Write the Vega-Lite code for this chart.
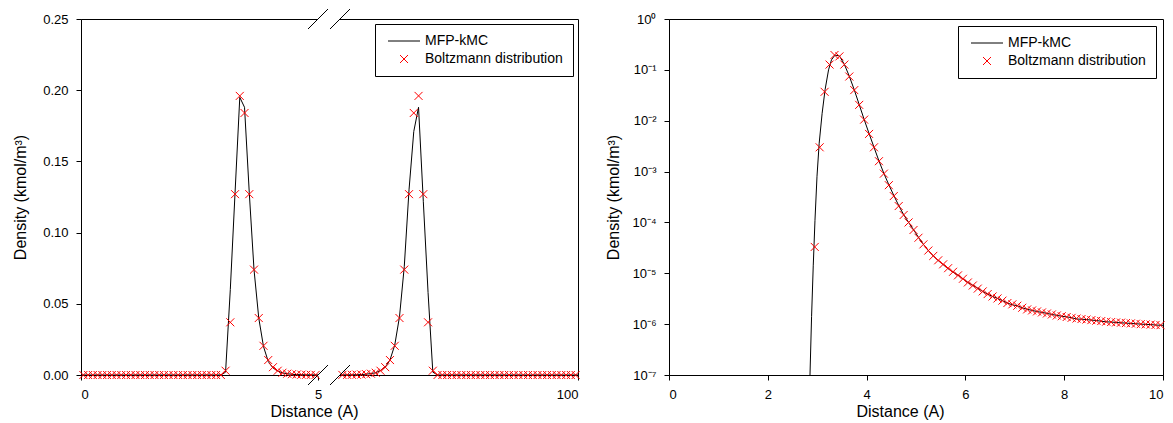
{
  "$schema": "https://vega.github.io/schema/vega-lite/v6.json",
  "padding": {"left": 12, "top": 6, "right": 2, "bottom": 2},
  "background": "white",
  "config": {
    "font": "Liberation Sans",
    "view": {"stroke": "black", "strokeWidth": 1},
    "axis": {"domainColor": "black", "tickColor": "black", "labelColor": "black", "titleColor": "black", "labelFontSize": 13, "titleFontSize": 16, "titleFontWeight": "normal", "grid": false, "tickSize": 5, "labelPadding": 8},
    "legend": {"strokeColor": "black", "fillColor": "white", "padding": 10, "labelFontSize": 14, "labelColor": "black", "symbolSize": 64, "symbolStrokeWidth": 1, "symbolOffset": 12, "labelOffset": 14, "rowPadding": 4, "orient": "top-right"}
  },
  "datasets": {
    "lin": [
      {"s":"B","g":"a","x":0.05,"d":0},{"s":"B","g":"a","x":0.15,"d":0},{"s":"B","g":"a","x":0.25,"d":0},{"s":"B","g":"a","x":0.35,"d":0},{"s":"B","g":"a","x":0.45,"d":0},{"s":"B","g":"a","x":0.55,"d":0},{"s":"B","g":"a","x":0.65,"d":0},{"s":"B","g":"a","x":0.75,"d":0},{"s":"B","g":"a","x":0.85,"d":0},{"s":"B","g":"a","x":0.95,"d":0},
      {"s":"B","g":"a","x":1.05,"d":0},{"s":"B","g":"a","x":1.15,"d":0},{"s":"B","g":"a","x":1.25,"d":0},{"s":"B","g":"a","x":1.35,"d":0},{"s":"B","g":"a","x":1.45,"d":0},{"s":"B","g":"a","x":1.55,"d":0},{"s":"B","g":"a","x":1.65,"d":0},{"s":"B","g":"a","x":1.75,"d":0},{"s":"B","g":"a","x":1.85,"d":0},{"s":"B","g":"a","x":1.95,"d":0},
      {"s":"B","g":"a","x":2.05,"d":0},{"s":"B","g":"a","x":2.15,"d":0},{"s":"B","g":"a","x":2.25,"d":0},{"s":"B","g":"a","x":2.35,"d":0},{"s":"B","g":"a","x":2.45,"d":0},{"s":"B","g":"a","x":2.55,"d":0},{"s":"B","g":"a","x":2.65,"d":0},{"s":"B","g":"a","x":2.75,"d":0},{"s":"B","g":"a","x":2.85,"d":0},
      {"s":"B","g":"a","x":2.95,"d":0.00003},{"s":"B","g":"a","x":3.05,"d":0.003},{"s":"B","g":"a","x":3.15,"d":0.037},{"s":"B","g":"a","x":3.25,"d":0.127},{"s":"B","g":"a","x":3.35,"d":0.196},{"s":"B","g":"a","x":3.45,"d":0.184},{"s":"B","g":"a","x":3.55,"d":0.127},{"s":"B","g":"a","x":3.65,"d":0.074},{"s":"B","g":"a","x":3.75,"d":0.04},{"s":"B","g":"a","x":3.85,"d":0.0205},
      {"s":"B","g":"a","x":3.95,"d":0.0105},{"s":"B","g":"a","x":4.05,"d":0.0055},{"s":"B","g":"a","x":4.15,"d":0.003},{"s":"B","g":"a","x":4.25,"d":0.0016},{"s":"B","g":"a","x":4.35,"d":0.00091},{"s":"B","g":"a","x":4.45,"d":0.00054},{"s":"B","g":"a","x":4.55,"d":0.00033},{"s":"B","g":"a","x":4.65,"d":0.00021},{"s":"B","g":"a","x":4.75,"d":0.00014},{"s":"B","g":"a","x":4.85,"d":0.0001},{"s":"B","g":"a","x":4.95,"d":0.00007},
      {"s":"B","g":"b","x":95.05,"d":0.00007},{"s":"B","g":"b","x":95.15,"d":0.0001},{"s":"B","g":"b","x":95.25,"d":0.00014},{"s":"B","g":"b","x":95.35,"d":0.00021},{"s":"B","g":"b","x":95.45,"d":0.00033},{"s":"B","g":"b","x":95.55,"d":0.00054},{"s":"B","g":"b","x":95.65,"d":0.00091},{"s":"B","g":"b","x":95.75,"d":0.0016},{"s":"B","g":"b","x":95.85,"d":0.003},{"s":"B","g":"b","x":95.95,"d":0.0055},
      {"s":"B","g":"b","x":96.05,"d":0.0105},{"s":"B","g":"b","x":96.15,"d":0.0205},{"s":"B","g":"b","x":96.25,"d":0.04},{"s":"B","g":"b","x":96.35,"d":0.074},{"s":"B","g":"b","x":96.45,"d":0.127},{"s":"B","g":"b","x":96.55,"d":0.184},{"s":"B","g":"b","x":96.65,"d":0.196},{"s":"B","g":"b","x":96.75,"d":0.127},{"s":"B","g":"b","x":96.85,"d":0.037},{"s":"B","g":"b","x":96.95,"d":0.003},{"s":"B","g":"b","x":97.05,"d":0.00003},
      {"s":"B","g":"b","x":97.15,"d":0},{"s":"B","g":"b","x":97.25,"d":0},{"s":"B","g":"b","x":97.35,"d":0},{"s":"B","g":"b","x":97.45,"d":0},{"s":"B","g":"b","x":97.55,"d":0},{"s":"B","g":"b","x":97.65,"d":0},{"s":"B","g":"b","x":97.75,"d":0},{"s":"B","g":"b","x":97.85,"d":0},{"s":"B","g":"b","x":97.95,"d":0},
      {"s":"B","g":"b","x":98.05,"d":0},{"s":"B","g":"b","x":98.15,"d":0},{"s":"B","g":"b","x":98.25,"d":0},{"s":"B","g":"b","x":98.35,"d":0},{"s":"B","g":"b","x":98.45,"d":0},{"s":"B","g":"b","x":98.55,"d":0},{"s":"B","g":"b","x":98.65,"d":0},{"s":"B","g":"b","x":98.75,"d":0},{"s":"B","g":"b","x":98.85,"d":0},{"s":"B","g":"b","x":98.95,"d":0},
      {"s":"B","g":"b","x":99.05,"d":0},{"s":"B","g":"b","x":99.15,"d":0},{"s":"B","g":"b","x":99.25,"d":0},{"s":"B","g":"b","x":99.35,"d":0},{"s":"B","g":"b","x":99.45,"d":0},{"s":"B","g":"b","x":99.55,"d":0},{"s":"B","g":"b","x":99.65,"d":0},{"s":"B","g":"b","x":99.75,"d":0},{"s":"B","g":"b","x":99.85,"d":0},{"s":"B","g":"b","x":99.95,"d":0},
      {"s":"M","g":"a","x":0.0,"d":0},{"s":"M","g":"a","x":0.5,"d":0},{"s":"M","g":"a","x":1.0,"d":0},{"s":"M","g":"a","x":1.5,"d":0},{"s":"M","g":"a","x":2.0,"d":0},{"s":"M","g":"a","x":2.5,"d":0},{"s":"M","g":"a","x":2.95,"d":0},
      {"s":"M","g":"a","x":3.05,"d":0.002},{"s":"M","g":"a","x":3.15,"d":0.06},{"s":"M","g":"a","x":3.25,"d":0.128},{"s":"M","g":"a","x":3.35,"d":0.195},{"s":"M","g":"a","x":3.45,"d":0.188},{"s":"M","g":"a","x":3.55,"d":0.128},{"s":"M","g":"a","x":3.65,"d":0.074},{"s":"M","g":"a","x":3.75,"d":0.04},{"s":"M","g":"a","x":3.85,"d":0.02},{"s":"M","g":"a","x":3.95,"d":0.0095},
      {"s":"M","g":"a","x":4.05,"d":0.005},{"s":"M","g":"a","x":4.15,"d":0.0028},{"s":"M","g":"a","x":4.25,"d":0.0015},{"s":"M","g":"a","x":4.35,"d":0.0009},{"s":"M","g":"a","x":4.45,"d":0.0005},{"s":"M","g":"a","x":4.55,"d":0.0003},{"s":"M","g":"a","x":4.65,"d":0.0002},{"s":"M","g":"a","x":4.75,"d":0.00013},{"s":"M","g":"a","x":4.85,"d":0.0001},{"s":"M","g":"a","x":4.95,"d":0.00007},{"s":"M","g":"a","x":5.0,"d":0.00006},
      {"s":"M","g":"b","x":95.0,"d":0.00006},{"s":"M","g":"b","x":95.05,"d":0.00007},{"s":"M","g":"b","x":95.15,"d":0.0001},{"s":"M","g":"b","x":95.25,"d":0.00013},{"s":"M","g":"b","x":95.35,"d":0.0002},{"s":"M","g":"b","x":95.45,"d":0.0003},{"s":"M","g":"b","x":95.55,"d":0.0006},{"s":"M","g":"b","x":95.65,"d":0.001},{"s":"M","g":"b","x":95.75,"d":0.0016},{"s":"M","g":"b","x":95.85,"d":0.0032},{"s":"M","g":"b","x":95.95,"d":0.0055},
      {"s":"M","g":"b","x":96.05,"d":0.0105},{"s":"M","g":"b","x":96.15,"d":0.021},{"s":"M","g":"b","x":96.25,"d":0.041},{"s":"M","g":"b","x":96.35,"d":0.076},{"s":"M","g":"b","x":96.45,"d":0.13},{"s":"M","g":"b","x":96.55,"d":0.171},{"s":"M","g":"b","x":96.65,"d":0.188},{"s":"M","g":"b","x":96.75,"d":0.122},{"s":"M","g":"b","x":96.85,"d":0.058},{"s":"M","g":"b","x":96.95,"d":0.002},
      {"s":"M","g":"b","x":97.05,"d":0},{"s":"M","g":"b","x":97.5,"d":0},{"s":"M","g":"b","x":98.0,"d":0},{"s":"M","g":"b","x":98.5,"d":0},{"s":"M","g":"b","x":99.0,"d":0},{"s":"M","g":"b","x":99.5,"d":0},{"s":"M","g":"b","x":100.0,"d":0}
    ],
    "log": [
      {"s":"B","x":2.95,"d":3.3e-5},{"s":"B","x":3.05,"d":3.0e-3},{"s":"B","x":3.15,"d":0.037},{"s":"B","x":3.25,"d":0.127},{"s":"B","x":3.35,"d":0.196},{"s":"B","x":3.45,"d":0.184},{"s":"B","x":3.55,"d":0.127},{"s":"B","x":3.65,"d":0.074},{"s":"B","x":3.75,"d":0.04},{"s":"B","x":3.85,"d":0.0205},
      {"s":"B","x":3.95,"d":0.0105},{"s":"B","x":4.05,"d":0.0055},{"s":"B","x":4.15,"d":0.003},{"s":"B","x":4.25,"d":0.0016},{"s":"B","x":4.35,"d":9.1e-4},{"s":"B","x":4.45,"d":5.4e-4},{"s":"B","x":4.55,"d":3.3e-4},{"s":"B","x":4.65,"d":2.1e-4},{"s":"B","x":4.75,"d":1.4e-4},{"s":"B","x":4.85,"d":1.0e-4},
      {"s":"B","x":4.95,"d":7.1e-5},{"s":"B","x":5.05,"d":5.0e-5},{"s":"B","x":5.15,"d":3.7e-5},{"s":"B","x":5.25,"d":2.8e-5},{"s":"B","x":5.35,"d":2.2e-5},{"s":"B","x":5.45,"d":1.8e-5},{"s":"B","x":5.55,"d":1.5e-5},{"s":"B","x":5.65,"d":1.26e-5},{"s":"B","x":5.75,"d":1.07e-5},{"s":"B","x":5.85,"d":9.1e-6},
      {"s":"B","x":5.95,"d":7.8e-6},{"s":"B","x":6.05,"d":6.6e-6},{"s":"B","x":6.15,"d":5.75e-6},{"s":"B","x":6.25,"d":5.0e-6},{"s":"B","x":6.35,"d":4.4e-6},{"s":"B","x":6.45,"d":3.9e-6},{"s":"B","x":6.55,"d":3.5e-6},{"s":"B","x":6.65,"d":3.2e-6},{"s":"B","x":6.75,"d":2.9e-6},{"s":"B","x":6.85,"d":2.6e-6},
      {"s":"B","x":6.95,"d":2.45e-6},{"s":"B","x":7.05,"d":2.3e-6},{"s":"B","x":7.15,"d":2.1e-6},{"s":"B","x":7.25,"d":1.95e-6},{"s":"B","x":7.35,"d":1.86e-6},{"s":"B","x":7.45,"d":1.78e-6},{"s":"B","x":7.55,"d":1.7e-6},{"s":"B","x":7.65,"d":1.62e-6},{"s":"B","x":7.75,"d":1.55e-6},{"s":"B","x":7.85,"d":1.48e-6},
      {"s":"B","x":7.95,"d":1.43e-6},{"s":"B","x":8.05,"d":1.38e-6},{"s":"B","x":8.15,"d":1.33e-6},{"s":"B","x":8.25,"d":1.29e-6},{"s":"B","x":8.35,"d":1.26e-6},{"s":"B","x":8.45,"d":1.23e-6},{"s":"B","x":8.55,"d":1.2e-6},{"s":"B","x":8.65,"d":1.17e-6},{"s":"B","x":8.75,"d":1.15e-6},{"s":"B","x":8.85,"d":1.12e-6},
      {"s":"B","x":8.95,"d":1.1e-6},{"s":"B","x":9.05,"d":1.08e-6},{"s":"B","x":9.15,"d":1.07e-6},{"s":"B","x":9.25,"d":1.05e-6},{"s":"B","x":9.35,"d":1.035e-6},{"s":"B","x":9.45,"d":1.02e-6},{"s":"B","x":9.55,"d":1.0e-6},{"s":"B","x":9.65,"d":9.9e-7},{"s":"B","x":9.75,"d":9.8e-7},{"s":"B","x":9.85,"d":9.65e-7},{"s":"B","x":9.95,"d":9.55e-7},
      {"s":"M","x":2.854,"d":1.0e-7},{"s":"M","x":2.886,"d":1.4e-6},{"s":"M","x":2.92,"d":1.4e-5},{"s":"M","x":2.955,"d":1.1e-4},{"s":"M","x":2.996,"d":8.1e-4},{"s":"M","x":3.04,"d":3.6e-3},{"s":"M","x":3.1,"d":0.014},{"s":"M","x":3.16,"d":0.041},{"s":"M","x":3.23,"d":0.1},{"s":"M","x":3.29,"d":0.158},
      {"s":"M","x":3.36,"d":0.195},{"s":"M","x":3.45,"d":0.188},{"s":"M","x":3.55,"d":0.128},{"s":"M","x":3.65,"d":0.075},{"s":"M","x":3.75,"d":0.0405},{"s":"M","x":3.85,"d":0.0208},{"s":"M","x":3.95,"d":0.0106},{"s":"M","x":4.05,"d":0.0056},{"s":"M","x":4.15,"d":0.003},{"s":"M","x":4.25,"d":0.00162},
      {"s":"M","x":4.35,"d":9.2e-4},{"s":"M","x":4.45,"d":5.5e-4},{"s":"M","x":4.55,"d":3.4e-4},{"s":"M","x":4.65,"d":2.15e-4},{"s":"M","x":4.75,"d":1.42e-4},{"s":"M","x":4.85,"d":1.0e-4},{"s":"M","x":4.95,"d":7.2e-5},{"s":"M","x":5.05,"d":5.1e-5},{"s":"M","x":5.15,"d":3.7e-5},{"s":"M","x":5.25,"d":2.8e-5},
      {"s":"M","x":5.35,"d":2.2e-5},{"s":"M","x":5.45,"d":1.78e-5},{"s":"M","x":5.55,"d":1.48e-5},{"s":"M","x":5.65,"d":1.23e-5},{"s":"M","x":5.75,"d":1.05e-5},{"s":"M","x":5.85,"d":9.2e-6},{"s":"M","x":5.95,"d":7.8e-6},{"s":"M","x":6.05,"d":6.6e-6},{"s":"M","x":6.15,"d":5.8e-6},{"s":"M","x":6.25,"d":5.1e-6},
      {"s":"M","x":6.35,"d":4.4e-6},{"s":"M","x":6.45,"d":3.9e-6},{"s":"M","x":6.55,"d":3.5e-6},{"s":"M","x":6.65,"d":3.2e-6},{"s":"M","x":6.75,"d":2.9e-6},{"s":"M","x":6.85,"d":2.6e-6},{"s":"M","x":6.95,"d":2.4e-6},{"s":"M","x":7.05,"d":2.3e-6},{"s":"M","x":7.15,"d":2.1e-6},{"s":"M","x":7.25,"d":1.96e-6},
      {"s":"M","x":7.35,"d":1.86e-6},{"s":"M","x":7.45,"d":1.77e-6},{"s":"M","x":7.55,"d":1.7e-6},{"s":"M","x":7.65,"d":1.63e-6},{"s":"M","x":7.75,"d":1.55e-6},{"s":"M","x":7.85,"d":1.49e-6},{"s":"M","x":7.95,"d":1.43e-6},{"s":"M","x":8.05,"d":1.39e-6},{"s":"M","x":8.15,"d":1.34e-6},{"s":"M","x":8.25,"d":1.26e-6},
      {"s":"M","x":8.35,"d":1.25e-6},{"s":"M","x":8.45,"d":1.23e-6},{"s":"M","x":8.55,"d":1.2e-6},{"s":"M","x":8.65,"d":1.18e-6},{"s":"M","x":8.75,"d":1.14e-6},{"s":"M","x":8.85,"d":1.11e-6},{"s":"M","x":8.95,"d":1.1e-6},{"s":"M","x":9.05,"d":1.08e-6},{"s":"M","x":9.15,"d":1.06e-6},{"s":"M","x":9.25,"d":1.05e-6},
      {"s":"M","x":9.35,"d":1.03e-6},{"s":"M","x":9.45,"d":1.02e-6},{"s":"M","x":9.55,"d":1.0e-6},{"s":"M","x":9.65,"d":9.9e-7},{"s":"M","x":9.75,"d":9.8e-7},{"s":"M","x":9.85,"d":9.6e-7},{"s":"M","x":9.95,"d":9.5e-7},{"s":"M","x":10.0,"d":9.5e-7}
    ]
  },
  "resolve": {"scale": {"color": "independent", "shape": "independent", "x": "independent", "y": "independent"}, "legend": {"color": "independent", "shape": "independent"}},
  "spacing": 22,
  "hconcat": [
    {
      "width": 497,
      "height": 356,
      "encoding": {
        "x": {"field": "x", "type": "quantitative", "scale": {"domain": [0, 5, 95, 100], "range": [0, 237, 259, 497], "nice": false, "zero": false}, "axis": {"values": [0, 5, 100], "title": "Distance (A)", "titleX": 233, "titlePadding": 2}},
        "y": {"field": "d", "type": "quantitative", "scale": {"domain": [0, 0.25], "nice": false}, "axis": {"values": [0, 0.05, 0.1, 0.15, 0.2, 0.25], "format": ".2f", "title": "Density (kmol/m³)", "titlePadding": 14}}
      },
      "layer": [
        {
          "data": {"values": [{"x": 5, "x2v": 95, "d": 0}, {"x": 5, "x2v": 95, "d": 0.25}]},
          "mark": {"type": "rule", "color": "white", "strokeWidth": 3},
          "encoding": {"x2": {"field": "x2v"}}
        },
        {
          "data": {"name": "lin"},
          "transform": [{"filter": "datum.s == 'M'"}],
          "mark": {"type": "line", "strokeWidth": 1},
          "encoding": {
            "color": {"field": "s", "type": "nominal", "scale": {"domain": ["M", "B"], "range": ["#000000", "#ff0000"]}, "legend": {"title": null, "offset": 5, "labelExpr": "datum.label == 'M' ? 'MFP-kMC' : 'Boltzmann distribution'"}},
            "detail": {"field": "g"}
          }
        },
        {
          "data": {"name": "lin"},
          "transform": [{"filter": "datum.s == 'B'"}],
          "mark": {"type": "point", "filled": false, "strokeWidth": 1, "size": 64, "opacity": 1},
          "encoding": {
            "color": {"field": "s", "type": "nominal", "scale": {"domain": ["M", "B"], "range": ["#000000", "#ff0000"]}, "legend": {"title": null, "offset": 5, "labelExpr": "datum.label == 'M' ? 'MFP-kMC' : 'Boltzmann distribution'"}},
            "shape": {"field": "s", "type": "nominal", "scale": {"domain": ["M", "B"], "range": ["M-4,0L4,0", "M-1,-1L1,1M-1,1L1,-1"]}, "legend": {"title": null, "offset": 5, "labelExpr": "datum.label == 'M' ? 'MFP-kMC' : 'Boltzmann distribution'"}}
          }
        },
        {
          "data": {"values": [{"x": 5, "d": 0}, {"x": 5, "d": 0.25}, {"x": 95, "d": 0}, {"x": 95, "d": 0.25}]},
          "mark": {"type": "point", "shape": "M-1,1L1,-1", "size": 400, "filled": false, "stroke": "black", "strokeWidth": 1, "opacity": 1}
        }
      ]
    },
    {
      "width": 494,
      "height": 356,
      "data": {"name": "log"},
      "encoding": {
        "x": {"field": "x", "type": "quantitative", "scale": {"domain": [0, 10], "nice": false}, "axis": {"values": [0, 2, 4, 6, 8, 10], "title": "Distance (A)", "titleX": 231, "titlePadding": 2}},
        "y": {"field": "d", "type": "quantitative", "scale": {"type": "log", "domain": [1e-7, 1], "nice": false}, "axis": {"values": [1e-7, 1e-6, 1e-5, 1e-4, 1e-3, 1e-2, 1e-1, 1], "title": "Density (kmol/m³)", "titlePadding": 10, "labelExpr": "'10' + (datum.value >= 0.99 ? '⁰' : '⁻' + ['⁰','¹','²','³','⁴','⁵','⁶','⁷','⁸','⁹'][round(-log(datum.value)/LN10)])"}}
      },
      "layer": [
        {
          "transform": [{"filter": "datum.s == 'M'"}],
          "mark": {"type": "line", "strokeWidth": 1},
          "encoding": {
            "color": {"field": "s", "type": "nominal", "scale": {"domain": ["M", "B"], "range": ["#000000", "#ff0000"]}, "legend": {"title": null, "offset": 7, "labelExpr": "datum.label == 'M' ? 'MFP-kMC' : 'Boltzmann distribution'"}}
          }
        },
        {
          "transform": [{"filter": "datum.s == 'B'"}],
          "mark": {"type": "point", "filled": false, "strokeWidth": 1, "size": 64, "opacity": 1},
          "encoding": {
            "color": {"field": "s", "type": "nominal", "scale": {"domain": ["M", "B"], "range": ["#000000", "#ff0000"]}, "legend": {"title": null, "offset": 7, "labelExpr": "datum.label == 'M' ? 'MFP-kMC' : 'Boltzmann distribution'"}},
            "shape": {"field": "s", "type": "nominal", "scale": {"domain": ["M", "B"], "range": ["M-4,0L4,0", "M-1,-1L1,1M-1,1L1,-1"]}, "legend": {"title": null, "offset": 7, "labelExpr": "datum.label == 'M' ? 'MFP-kMC' : 'Boltzmann distribution'"}}
          }
        }
      ]
    }
  ]
}
